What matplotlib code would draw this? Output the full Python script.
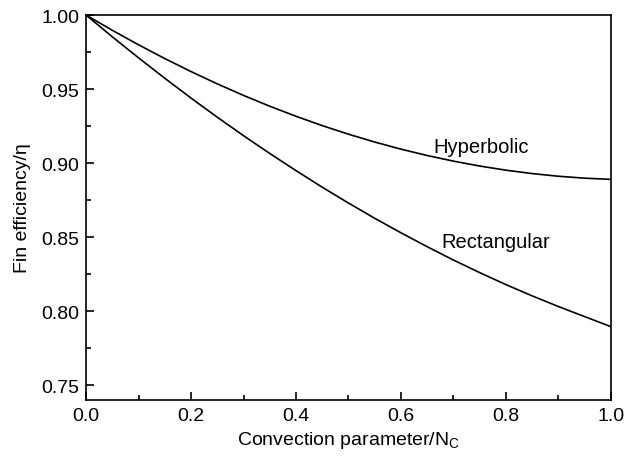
import numpy as np
import matplotlib
matplotlib.use("Agg")
import matplotlib.pyplot as plt
from matplotlib.ticker import MultipleLocator, FormatStrFormatter

plt.rcParams['font.family'] = ['Liberation Sans', 'DejaVu Sans']
plt.rcParams['mathtext.fontset'] = 'custom'
plt.rcParams['mathtext.rm'] = 'Liberation Sans'
plt.rcParams['mathtext.it'] = 'Liberation Sans:italic'
plt.rcParams['mathtext.default'] = 'regular'

# Convection parameter N_C
n_c = [0.00, 0.05, 0.10, 0.15, 0.20, 0.25, 0.30, 0.35, 0.40, 0.45, 0.50,
       0.55, 0.60, 0.65, 0.70, 0.75, 0.80, 0.85, 0.90, 0.95, 1.00]

# Fin efficiency for each profile
eta_hyperbolic = [1.0000, 0.9897, 0.9799, 0.9706, 0.9618, 0.9535, 0.9457, 0.9384,
                  0.9316, 0.9253, 0.9195, 0.9142, 0.9094, 0.9051, 0.9013, 0.8980,
                  0.8952, 0.8929, 0.8911, 0.8898, 0.8890]
eta_rectangular = [1.0000, 0.9853, 0.9711, 0.9573, 0.9439, 0.9310, 0.9185, 0.9065,
                   0.8949, 0.8837, 0.8730, 0.8627, 0.8529, 0.8435, 0.8345, 0.8260,
                   0.8179, 0.8103, 0.8031, 0.7963, 0.7895]

fig = plt.figure(figsize=(6.26, 4.60), dpi=100)
ax = fig.add_axes([0.1374, 0.1283, 0.8386, 0.8369])

ax.plot(n_c, eta_hyperbolic, color='black', lw=1.2)
ax.plot(n_c, eta_rectangular, color='black', lw=1.2)

ax.text(0.661, 0.9115, 'Hyperbolic', fontsize=14.5, va='center', ha='left')
ax.text(0.6775, 0.847, 'Rectangular', fontsize=14.5, va='center', ha='left')

ax.set_xlim(0, 1.0)
ax.set_ylim(0.74, 1.00)
ax.xaxis.set_major_locator(MultipleLocator(0.2))
ax.xaxis.set_minor_locator(MultipleLocator(0.1))
ax.xaxis.set_major_formatter(FormatStrFormatter('%.1f'))
ax.yaxis.set_major_formatter(FormatStrFormatter('%.2f'))
ax.set_yticks([0.75, 0.80, 0.85, 0.90, 0.95, 1.00])
ax.set_yticks([0.775, 0.825, 0.875, 0.925, 0.975], minor=True)

ax.tick_params(which='both', direction='in', top=False, right=False,
               labelsize=14, width=1.2, pad=5)
ax.tick_params(which='major', length=6)
ax.tick_params(which='minor', length=3.5)
for s in ax.spines.values():
    s.set_linewidth(1.2)

ax.set_xlabel('Convection parameter/N$_\\mathrm{C}$', fontsize=14, labelpad=4)
ax.set_ylabel('Fin efficiency/η', fontsize=14, labelpad=7)

fig.savefig('out.png', dpi=100)
